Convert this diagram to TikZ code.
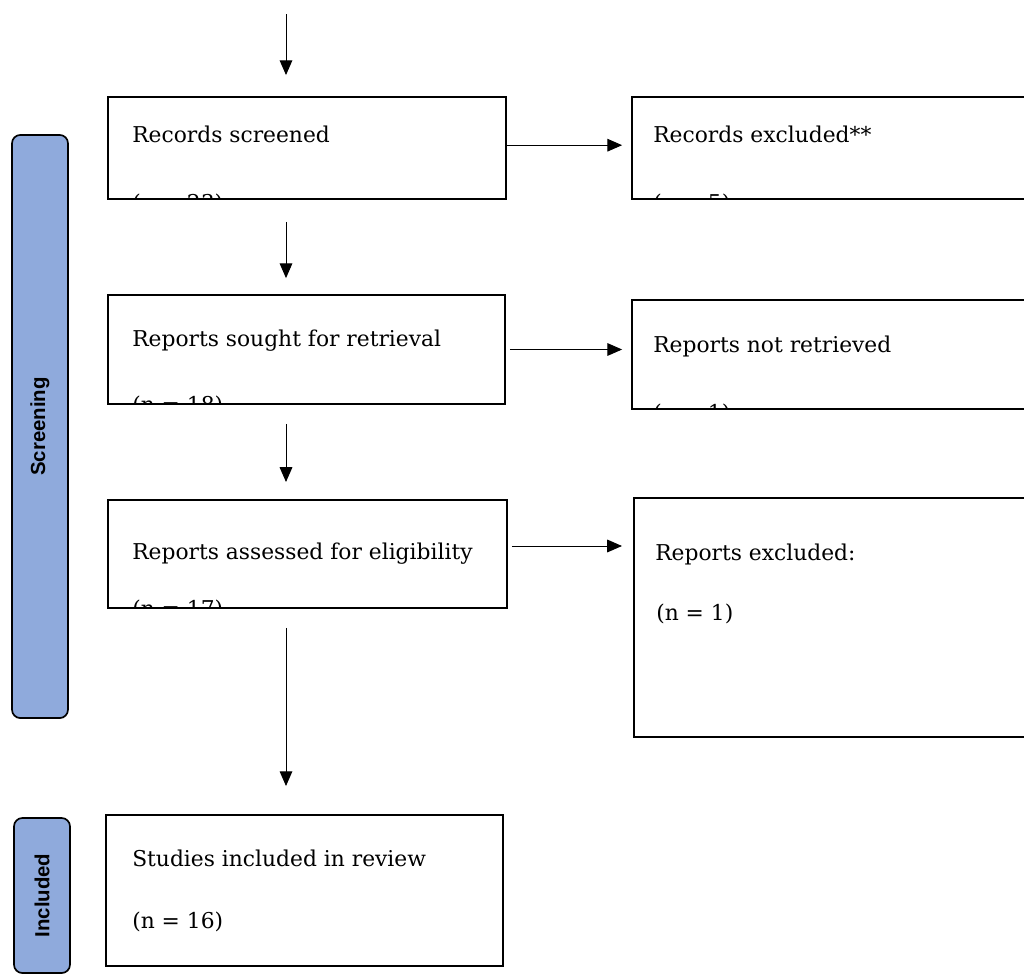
\documentclass[tikz,border=0pt]{standalone}
\usepackage{fontspec}
\setmainfont{DejaVu Serif}
\setsansfont{Liberation Sans}
\usetikzlibrary{arrows.meta,positioning}
\definecolor{barblue}{HTML}{8FAADC}

\begin{document}
\begin{tikzpicture}[x=0.025cm,y=-0.025cm,
    box/.style={draw, line width=1.4pt, inner sep=0pt, outer sep=0pt},
    bar/.style={draw, line width=1.2pt, rounded corners=6pt, fill=barblue, inner sep=0pt},
    txt/.style={anchor=base west, inner sep=0pt, font=\fontsize{15.5}{18}\selectfont},
    side/.style={rotate=90, font=\sffamily\bfseries\fontsize{14.5}{17}\selectfont},
    arr/.style={-{Triangle[length=10.5pt,width=9pt]}, line width=0.7pt}]
        \useasboundingbox (0,0) rectangle (1024,976);

        % side bars
        \node[bar, minimum width=1.4cm, minimum height=14.575cm] (screenbar) at (40,426.5) {};
        \node[side] (screenlbl) at (screenbar.center) {Screening};
        \node[bar, minimum width=1.4cm, minimum height=3.875cm] (inclbar) at (42,895.5) {};
        \node[side] (incllbl) at (inclbar.center) {Included};

        % main column
        \node[box, minimum width=9.95cm, minimum height=2.55cm] (screened) at (307,148) {};
        \node[box, minimum width=9.925cm, minimum height=2.725cm] (sought) at (306.5,349.5) {};
        \node[box, minimum width=9.975cm, minimum height=2.7cm] (assessed) at (307.5,554) {};
        \node[box, minimum width=9.925cm, minimum height=3.775cm] (included) at (304.5,890.5) {};

        % right column
        \node[box, minimum width=9.95cm, minimum height=2.55cm] (recexcl) at (831,148) {};
        \node[box, minimum width=9.95cm, minimum height=2.725cm] (notretr) at (831,354.5) {};
        \node[box, minimum width=9.9cm, minimum height=5.975cm] (repexcl) at (832,617.5) {};

        % texts
        \node[txt] (screenedtxt) at (132,142) {Records screened};
        \begin{scope}
            \clip (screened.north west) rectangle (screened.south east);
            \node[txt] (screenedn) at (132,210) {(n = 23)};
        \end{scope}
        \node[txt] (recexcltxt) at (653,142) {Records excluded**};
        \begin{scope}
            \clip (recexcl.north west) rectangle (recexcl.south east);
            \node[txt] (recexcln) at (653,210) {(n = 5)};
        \end{scope}
        \node[txt] (soughttxt) at (132,346) {Reports sought for retrieval};
        \begin{scope}
            \clip (sought.north west) rectangle (sought.south east);
            \node[txt] (soughtn) at (132,412) {(n = 18)};
        \end{scope}
        \node[txt] (notretrtxt) at (653,352) {Reports not retrieved};
        \begin{scope}
            \clip (notretr.north west) rectangle (notretr.south east);
            \node[txt] (notretrn) at (653,420) {(n = 1)};
        \end{scope}
        \node[txt] (assessedtxt) at (132,559) {Reports assessed for eligibility};
        \begin{scope}
            \clip (assessed.north west) rectangle (assessed.south east);
            \node[txt] (assessedn) at (132,616) {(n = 17)};
        \end{scope}
        \node[txt] (repexcltxt) at (655,560) {Reports excluded:};
        \node[txt] (repexcln) at (656,620) {(n = 1)};
        \node[txt] (includedtxt) at (132,866) {Studies included in review};
        \node[txt] (includedn) at (132,928) {(n = 16)};

        % arrows
        \coordinate (start) at (286,14);
        \draw[arr, shorten >=15.6pt] (start) -- (start |- screened.north);
        \draw[arr, shorten <=16.3pt, shorten >=12pt] (screened.south -| start) -- (sought.north -| start);
        \draw[arr, shorten <=14.2pt, shorten >=12.8pt] (sought.south -| start) -- (assessed.north -| start);
        \draw[arr, shorten <=14.2pt, shorten >=20.6pt] (assessed.south -| start) -- (included.north -| start);

        \draw[arr, shorten >=7pt] ([yshift=2pt]screened.east) -- ([yshift=2pt]screened.east -| recexcl.west);
        \draw[arr, shorten <=3.5pt, shorten >=7pt] (sought.east) -- (sought.east -| notretr.west);
        \draw[arr, shorten <=3.5pt, shorten >=8.5pt] ([yshift=5.7pt]assessed.east) -- ([yshift=5.7pt]assessed.east -| repexcl.west);
    \end{tikzpicture}
\end{document}
